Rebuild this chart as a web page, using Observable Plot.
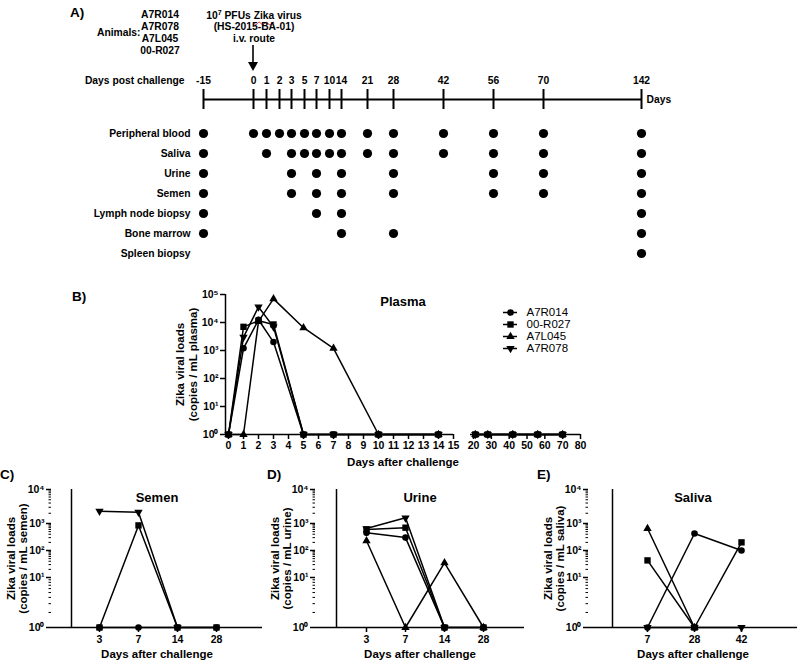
<!DOCTYPE html>
<html><head><meta charset="utf-8">
<script src="https://cdn.jsdelivr.net/npm/d3@7"></script>
<script src="https://cdn.jsdelivr.net/npm/@observablehq/plot@0.6"></script>
<style>
body{margin:0;background:#fff;}
#fig{position:relative;width:800px;height:663px;overflow:hidden;font-family:"Liberation Sans",Arial,Helvetica,sans-serif;color:#000;}
#fig svg{position:absolute;left:0;top:0;}
.t{position:absolute;font-weight:bold;white-space:nowrap;line-height:1;}
</style></head><body><div id="fig"></div>
<script>
// ---------------- DATA ----------------
const animals = ["A7R014", "00-R027", "A7L045", "A7R078"];

// Panel A: sampling schedule
const timelineDays = [-15, 0, 1, 2, 3, 5, 7, 10, 14, 21, 28, 42, 56, 70, 142];
const sampleRows = ["Peripheral blood", "Saliva", "Urine", "Semen", "Lymph node biopsy", "Bone marrow", "Spleen biopsy"];
const peripheralBloodDays = [-15, 0, 1, 2, 3, 5, 7, 10, 14, 21, 28, 42, 56, 70, 142];
const salivaDays = [-15, 1, 3, 5, 7, 10, 14, 21, 28, 42, 56, 70, 142];
const urineDays = [-15, 3, 7, 14, 28, 56, 70, 142];
const semenDays = [-15, 3, 7, 14, 28, 56, 70, 142];
const lymphNodeDays = [-15, 7, 14, 142];
const boneMarrowDays = [-15, 14, 28, 142];
const spleenDays = [142];

// Panel B: plasma viral loads (copies / mL)
const plasmaDays = [0, 1, 2, 3, 5, 7, 10, 14, 21, 28, 42, 56, 70];
const plasmaA7R014 = [1, 1200, 12500, 2000, 1, 1, 1, 1, 1, 1, 1, 1, 1];
const plasma00R027 = [1, 7000, 11500, 8500, 1, 1, 1, 1, 1, 1, 1, 1, 1];
const plasmaA7L045 = [1, 1, 11000, 70000, 6500, 1200, 1, 1, 1, 1, 1, 1, 1];
const plasmaA7R078 = [1, 3000, 36000, 7000, 1, 1, 1, 1, 1, 1, 1, 1, 1];
const plasmaTicksX = [0, 1, 2, 3, 4, 5, 6, 7, 8, 9, 10, 11, 12, 13, 14, 15, 20, 30, 40, 50, 60, 70, 80];

// Panel C: semen
const semenPanelDays = [3, 7, 14, 28];
const semenA7R014 = [1, 1, 1, 1];
const semen00R027 = [1, 850, 1, 1];
const semenA7R078 = [2300, 2150, 1, null];

// Panel D: urine
const urinePanelDays = [3, 7, 14, 28];
const urineA7R014 = [450, 300, 1, 1];
const urine00R027 = [600, 700, 1, 1];
const urineA7L045 = [230, 1, 35, 1];
const urineA7R078 = [650, 1470, 1, null];

// Panel E: saliva
const salivaPanelDays = [7, 28, 42];
const salivaA7R014 = [1, 425, 100];
const saliva00R027 = [43, 1, 200];
const salivaA7L045 = [650, 1, null];
const salivaA7R078 = [1, 1, 1];

const logTicks5 = [1, 10, 100, 1000, 10000, 100000];
const logTicks4 = [1, 10, 100, 1000, 10000];

// ---------------- HELPERS ----------------
const FONT = '"Liberation Sans", Arial, Helvetica, sans-serif';
const W = 800, H = 663;
const fig = document.getElementById("fig");
const SUP = "⁰¹²³⁴⁵⁶⁷⁸⁹";
const sup = d => "10" + SUP[Math.round(Math.log10(d))];

const triangleDown = {
  draw(context, size) {
    const y = -Math.sqrt(size / (Math.sqrt(3) * 3));
    context.moveTo(0, -y * 2);
    context.lineTo(-Math.sqrt(3) * y, y);
    context.lineTo(Math.sqrt(3) * y, y);
    context.closePath();
  }
};
const symbolOf = {"A7R014": "circle", "00-R027": "square", "A7L045": "triangle", "A7R078": triangleDown};
const radiusOf = {"A7R014": 3.3, "00-R027": 3.6, "A7L045": 3.1, "A7R078": 3.1};

function add(opts) {
  const svg = Plot.plot({
    width: W, height: H,
    style: {background: "transparent", fontFamily: FONT, fontSize: "10.5px", fontWeight: "bold", color: "#000", overflow: "visible"},
    ...opts
  });
  fig.appendChild(svg);
}
function label(text, x, y, {size = 11, anchor = "middle", weight = "bold", html = false} = {}) {
  const d = document.createElement("div");
  d.className = "t";
  if (html) d.innerHTML = text; else d.textContent = text;
  d.style.fontSize = size + "px";
  d.style.fontWeight = weight;
  d.style.left = x + "px";
  d.style.top = y + "px";
  const tx = anchor === "middle" ? "-50%" : anchor === "end" ? "-100%" : "0";
  d.style.transform = `translate(${tx},-50%)`;
  fig.appendChild(d);
}
function seriesRows(days, seriesByAnimal) {
  return Object.entries(seriesByAnimal).flatMap(([animal, vals]) =>
    days.map((day, j) => ({animal, day, value: vals[j]})).filter(d => d.value != null));
}

// ---------------- PANEL A ----------------
const tlStart = 203;
const tlGaps = [50, 13, 13, 12, 13, 12, 13, 12, 26, 26, 50, 50, 50, 98];
const tlRange = tlGaps.reduce((acc, g) => (acc.push(acc[acc.length - 1] + g), acc), [tlStart]);
const tlX = {type: "linear", domain: timelineDays, range: tlRange, axis: null};

add({
  marginTop: 89, marginBottom: H - 109, marginLeft: 0, marginRight: 0,
  x: tlX, y: {domain: [0, 1], axis: null},
  style: {background: "transparent", fontFamily: FONT, fontSize: "10.3px", fontWeight: "bold", color: "#000", overflow: "visible"},
  marks: [
    Plot.ruleX(timelineDays, {x: d => d, stroke: "#000", strokeWidth: 2}),
    Plot.ruleY([0.5], {x1: () => timelineDays[0], x2: () => timelineDays[timelineDays.length - 1], stroke: "#000", strokeWidth: 2}),
    Plot.text(timelineDays, {x: d => d, y: () => 1, dy: -9, text: d => String(d)}),
    Plot.text(["Days post challenge"], {x: () => timelineDays[0], y: () => 1, dx: -19, dy: -9, textAnchor: "end", text: d => d}),
    Plot.text(["Days"], {x: () => timelineDays[timelineDays.length - 1], y: () => 0.5, dx: 5, textAnchor: "start", text: d => d})
  ]
});

const rowDays = [peripheralBloodDays, salivaDays, urineDays, semenDays, lymphNodeDays, boneMarrowDays, spleenDays];
const scheduleDots = sampleRows.flatMap((row, i) => rowDays[i].map(day => ({row, day})));
add({
  margin: 0,
  x: tlX,
  y: {type: "point", domain: sampleRows, range: [121, 265], axis: null},
  style: {background: "transparent", fontFamily: FONT, fontSize: "10.3px", fontWeight: "bold", color: "#000", overflow: "visible"},
  marks: [
    Plot.dot(scheduleDots, {x: "day", y: "row", r: 4.6, fill: "#000"}),
    Plot.text(sampleRows, {x: () => timelineDays[0], y: d => d, dx: -13, textAnchor: "end", text: d => d})
  ]
});

label("A)", 70, 13, {size: 13.5, anchor: "start"});
label("Animals:", 97, 33, {size: 10.3, anchor: "start"});
["A7R014", "A7R078", "A7L045", "00-R027"].forEach((a, i) => label(a, 160, 15 + i * 12, {size: 10.3}));
label('10<sup style="font-size:7px;vertical-align:4px">7</sup> PFUs <span style="text-decoration:underline wavy #e03030;text-decoration-thickness:1px;text-underline-offset:2px">Zika</span> virus', 254, 15, {size: 10.3, html: true});
label("(HS-2015-BA-01)", 254, 27, {size: 10.3});
label("i.v. route", 254, 39, {size: 10.3});
{
  const ns = "http://www.w3.org/2000/svg";
  const s = document.createElementNS(ns, "svg");
  s.setAttribute("width", W); s.setAttribute("height", 80);
  s.innerHTML = '<line x1="253" y1="45" x2="253" y2="64" stroke="#000" stroke-width="1.6"/><path d="M248,62 L258,62 L253,71 Z" fill="#000"/>';
  fig.appendChild(s);
}

// ---------------- PANEL B ----------------
const plasmaSeg1 = [-0.2, 15], plasmaSeg2 = [18.3, 80];
const plasmaData = seriesRows(plasmaDays, {
  "A7R014": plasmaA7R014, "00-R027": plasma00R027, "A7L045": plasmaA7L045, "A7R078": plasmaA7R078
});
add({
  marginLeft: 225, marginRight: W - 580, marginTop: 294, marginBottom: H - 434,
  x: {type: "linear", domain: [plasmaSeg1[0], plasmaSeg1[1], plasmaSeg2[0], plasmaSeg2[1]], range: [225, 453, 470, 580]},
  y: {type: "log", domain: [1, 1e5], range: [434, 294]},
  marks: [
    Plot.ruleX([plasmaSeg1[0]], {x: d => d, y1: () => 1, y2: () => 1e5, stroke: "#000", strokeWidth: 1.5}),
    Plot.ruleY([1], {y: d => d, x1: () => plasmaSeg1[0], x2: () => plasmaSeg1[1], stroke: "#000", strokeWidth: 1.5}),
    Plot.ruleY([1], {y: d => d, x1: () => plasmaSeg2[0], x2: () => plasmaSeg2[1], stroke: "#000", strokeWidth: 1.5}),
    Plot.axisY({ticks: logTicks5, tickFormat: sup, tickSize: 5, tickPadding: 2, strokeWidth: 1.5, label: null, fontSize: 10.5}),
    Plot.axisX({ticks: plasmaTicksX, tickFormat: d => String(d), tickSize: 5, tickPadding: 2, strokeWidth: 1.5, label: null, fontSize: 10.5}),
    Plot.line(plasmaData, {x: "day", y: "value", z: d => d.animal + (d.day > 15 ? "b" : "a"), stroke: "#000", strokeWidth: 1.5}),
    ...animals.map(a => Plot.dot(plasmaData.filter(d => d.animal === a), {x: "day", y: "value", symbol: symbolOf[a], r: radiusOf[a], fill: "#000"})),
    Plot.text(["Plasma"], {frameAnchor: "top", dy: 7, lineAnchor: "middle", textAnchor: "middle", text: d => d, fontSize: 13}),
    Plot.text(["Zika viral loads\n(copies / mL plasma)"], {frameAnchor: "left", rotate: -90, dx: -39, textAnchor: "middle", lineAnchor: "middle", lineHeight: 1.1, text: d => d, fontSize: 11.5}),
    Plot.text(["Days after challenge"], {frameAnchor: "bottom", dy: 28, textAnchor: "middle", lineAnchor: "middle", text: d => d, fontSize: 11.5})
  ]
});
label("B)", 72, 297, {size: 13.5, anchor: "start"});

// Legend
add({
  margin: 0,
  x: {domain: [0, 1], range: [503, 517], axis: null},
  y: {type: "point", domain: animals, range: [305, 354], axis: null},
  style: {background: "transparent", fontFamily: FONT, fontSize: "11.5px", fontWeight: "normal", color: "#000", overflow: "visible"},
  marks: [
    Plot.ruleY(animals, {y: d => d, x1: () => 0, x2: () => 1, stroke: "#000", strokeWidth: 1.5}),
    ...animals.map(a => Plot.dot([a], {x: () => 0.5, y: d => d, symbol: symbolOf[a], r: radiusOf[a], fill: "#000"})),
    Plot.text(animals, {x: () => 1, y: d => d, dx: 9, textAnchor: "start", text: d => d, fontWeight: "normal"})
  ]
});

// ---------------- PANELS C, D, E ----------------
const minorTicks = [0, 1, 2, 3].flatMap(k => [2, 3, 4, 5, 6, 7, 8, 9].map(m => m * 10 ** k));
const smallPanels = [
  {letter: "C)", letterX: 0, title: "Semen", unit: "semen", days: semenPanelDays,
   series: {"A7R014": semenA7R014, "00-R027": semen00R027, "A7R078": semenA7R078},
   left: 51, right: 262, first: 79, last: 236},
  {letter: "D)", letterX: 267, title: "Urine", unit: "urine", days: urinePanelDays,
   series: {"A7R014": urineA7R014, "00-R027": urine00R027, "A7L045": urineA7L045, "A7R078": urineA7R078},
   left: 315, right: 524, first: 345, last: 503},
  {letter: "E)", letterX: 537, title: "Saliva", unit: "saliva", days: salivaPanelDays,
   series: {"A7R014": salivaA7R014, "00-R027": saliva00R027, "A7L045": salivaA7L045, "A7R078": salivaA7R078},
   left: 588, right: 797, first: 623, last: 764}
];
for (const p of smallPanels) {
  const data = seriesRows(p.days, p.series);
  const present = animals.filter(a => a in p.series);
  add({
    marginLeft: p.left, marginRight: W - p.right, marginTop: 489, marginBottom: H - 627,
    x: {type: "point", domain: p.days, range: [p.first, p.last]},
    y: {type: "log", domain: logTicks4, range: [627, 577, 550, 523, 489]},
    marks: [
      Plot.ruleX([p.days[0]], {x: d => d, dx: p.left - p.first, y1: () => 1, y2: () => 1e4, stroke: "#000", strokeWidth: 1.5}),
      Plot.ruleY([1], {y: d => d, stroke: "#000", strokeWidth: 1.5}),
      Plot.axisY({ticks: minorTicks, tickSize: 2.5, fill: "none", label: null}),
      Plot.axisY({ticks: logTicks4, tickFormat: sup, tickSize: 5, tickPadding: 2, strokeWidth: 1.5, label: null, fontSize: 10.5}),
      Plot.axisX({ticks: p.days, tickFormat: d => String(d), tickSize: 5, tickPadding: 3, strokeWidth: 1.5, label: null, fontSize: 10.5}),
      Plot.line(data, {x: "day", y: "value", z: "animal", stroke: "#000", strokeWidth: 1.5}),
      ...present.map(a => Plot.dot(data.filter(d => d.animal === a), {x: "day", y: "value", symbol: symbolOf[a], r: radiusOf[a], fill: "#000"})),
      Plot.text([p.title], {frameAnchor: "top", dy: 8, lineAnchor: "middle", textAnchor: "middle", text: d => d, fontSize: 13}),
      Plot.text([`Zika viral loads\n(copies / mL ${p.unit})`], {frameAnchor: "left", rotate: -90, dx: -34, textAnchor: "middle", lineAnchor: "middle", lineHeight: 1.05, text: d => d, fontSize: 11.5}),
      Plot.text(["Days after challenge"], {frameAnchor: "bottom", dy: 27, textAnchor: "middle", lineAnchor: "middle", text: d => d, fontSize: 11.5})
    ]
  });
  label(p.letter, p.letterX, 475, {size: 13.5, anchor: "start"});
}
</script></body></html>
